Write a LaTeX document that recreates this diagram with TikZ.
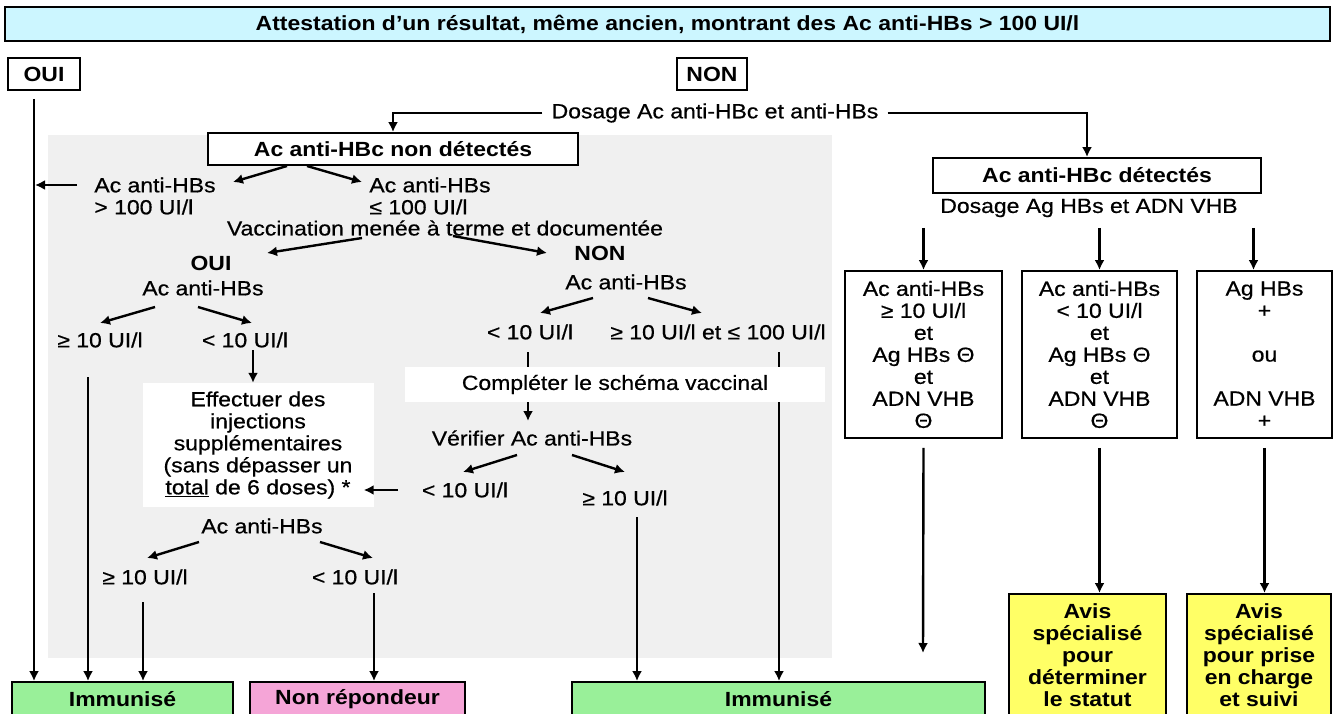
\documentclass[tikz,border=0pt]{standalone}
\usepackage{fontspec}
\setmainfont{Liberation Sans}[FakeStretch=1.12,UprightFeatures={FakeBold=0.6}]
\usetikzlibrary{calc}
\usetikzlibrary{arrows.meta}

\definecolor{topcyan}{RGB}{204,246,255}
\definecolor{bggray}{RGB}{240,240,240}
\definecolor{immgreen}{RGB}{153,240,153}
\definecolor{nrpink}{RGB}{245,165,215}
\definecolor{avyellow}{RGB}{255,255,102}

\begin{document}
\begin{tikzpicture}[x=1pt,y=-1pt,
  every node/.style={font=\fontsize{20.5}{22}\selectfont,inner sep=0pt,align=center},
  bold/.style={font=\fontsize{20.5}{22}\selectfont\bfseries},
  box/.style={draw,line width=1.9pt,fill=white},
  ln/.style={line width=2.4pt},
  arr/.style={line width=2.4pt,-{Latex[length=10pt,width=10pt]}}]

  \useasboundingbox (0,0) rectangle (1336,714);
  \fill [white] (0,0) rectangle (1336,714);
  \fill [bggray] (48,135) rectangle (832,658);

  % head
  \node [box,bold,fill=topcyan,minimum width=1325pt,minimum height=34pt] (top) at (667.5,24) {Attestation d’un résultat, même ancien, montrant des Ac anti-HBs > 100 UI/l};
  \node [box,bold,minimum width=72pt,minimum height=32pt] (oui) at (44,74) {OUI};
  \node [box,bold,minimum width=70pt,minimum height=32pt] (non) at (712,74) {NON};
  \node [inner xsep=9pt] (dosage) at (715,113) {Dosage Ac anti-HBc et anti-HBs};
  \node [box,bold,minimum width=370pt,minimum height=32pt] (nondet) at (393,149) {Ac anti-HBc non détectés};
  \node [box,bold,minimum width=328pt,minimum height=35pt] (det) at (1097,175.5) {Ac anti-HBc détectés};
  \node (dosage2) at (1089,208) {Dosage Ag HBs et ADN VHB};

  % anti-HBc non detectes
  \node [align=left] (hbsGt) at (155,196) {Ac anti-HBs\\> 100 UI/l};
  \node [align=left] (hbsLe) at (430,196) {Ac anti-HBs\\≤ 100 UI/l};
  \node (vacc) at (445,228) {Vaccination menée à terme et documentée};
  \node [bold] (ouiB) at (211,263) {OUI};
  \node (hbsO) at (203,288) {Ac anti-HBs};
  \node (geA) at (100,340) {≥ 10 UI/l};
  \node (ltA) at (245,340) {< 10 UI/l};
  \node [fill=white,minimum width=231pt,minimum height=124pt] (effect) at (258,445) {Effectuer des\\injections\\supplémentaires\\(sans dépasser un\\\underline{total} de 6 doses) *};
  \node (hbsE) at (262,526) {Ac anti-HBs};
  \node (geE) at (145,577) {≥ 10 UI/l};
  \node (ltE) at (355,577) {< 10 UI/l};

  \node [bold] (nonB) at (600,253) {NON};
  \node (hbsN) at (626,282) {Ac anti-HBs};
  \node (ltN) at (530,332) {< 10 UI/l};
  \node (midN) at (718,332) {≥ 10 UI/l et ≤ 100 UI/l};
  \node [fill=white,minimum width=420pt,minimum height=35pt] (compl) at (615,384.5) {Compléter le schéma vaccinal};
  \node (verif) at (532,438) {Vérifier Ac anti-HBs};
  \node (ltC) at (465,490) {< 10 UI/l};
  \node (geV) at (625,498) {≥ 10 UI/l};

  % anti-HBc detectes
  \node [box,minimum width=157pt,minimum height=167pt] (bx1) at (923.5,354.5) {Ac anti-HBs\\≥ 10 UI/l\\et\\Ag HBs Θ\\et\\ADN VHB\\Θ};
  \node [box,minimum width=155pt,minimum height=167pt] (bx2) at (1099.5,354.5) {Ac anti-HBs\\< 10 UI/l\\et\\Ag HBs Θ\\et\\ADN VHB\\Θ};
  \node [box,minimum width=135pt,minimum height=167pt] (bx3) at (1264.5,354.5) {Ag HBs\\+\\\mbox{}\\ou\\\mbox{}\\ADN VHB\\+};
  \coordinate (endA) at (923,653);

  % results
  \node [box,bold,fill=immgreen,minimum width=221pt,minimum height=34pt] (immA) at (122.5,699) {Immunisé};
  \node [box,bold,fill=nrpink,minimum width=215pt,minimum height=34pt] (nrep) at (357.5,699) {Non répondeur};
  \node [box,bold,fill=immgreen,minimum width=413pt,minimum height=34pt] (immB) at (778.5,699) {Immunisé};
  \node [box,bold,fill=avyellow,minimum width=157pt,minimum height=122pt] (av1) at (1087.5,655) {Avis\\spécialisé\\pour\\déterminer\\le statut};
  \node [box,bold,fill=avyellow,minimum width=144pt,minimum height=122pt] (av2) at (1259,655) {Avis\\spécialisé\\pour prise\\en charge\\et suivi};

  \draw [arr] (dosage.west) -| (nondet.north);
  \draw [arr] (dosage.east) -| ($(det.north)+(-10,0)$);
  \draw [arr] ($(oui.south)+(-10,8)$) -- ($(oui.south |- immA.north)+(-10,0)$);

  \draw [arr] ($(nondet)+(-106,17)$) -- ($(hbsGt)+(78,-14)$);
  \draw [arr] ($(nondet)+(-86,17)$) -- ($(hbsLe)+(-68,-14)$);
  \draw [arr] ($(hbsGt)+(-78,-11)$) -- ($(hbsGt)+(-120,-11)$);
  \draw [arr] ($(vacc)+(-83,10)$) -- ($(ouiB)+(56,-10)$);
  \draw [arr] ($(vacc)+(8,8)$) -- ($(nonB)+(-53,0)$);
  \draw [arr] ($(hbsO)+(-48,19)$) -- ($(geA)+(0,-17)$);
  \draw [arr] ($(hbsO)+(-5,19)$) -- ($(ltA)+(7,-17)$);
  \draw [arr] ($(geA)+(-12,37)$) -- ($(geA |- immA.north)+(-12,0)$);
  \draw [arr] ($(ltA)+(8,10)$) -- ($(ltA |- effect.north)+(8,0)$);
  \draw [arr] ($(ltC)+(-67,0)$) -- ($(effect.east |- ltC)+(-10,0)$);
  \draw [arr] ($(hbsE)+(-63,16)$) -- ($(geE)+(2,-19)$);
  \draw [arr] ($(hbsE)+(58,16)$) -- ($(ltE)+(18,-19)$);
  \draw [arr] ($(geE)+(-2,25)$) -- ($(geE |- immA.north)+(-2,0)$);
  \draw [arr] ($(ltE)+(19,16)$) -- ($(ltE |- nrep.north)+(19,0)$);

  \draw [arr] ($(hbsN)+(-33,16)$) -- ($(ltN)+(10,-19)$);
  \draw [arr] ($(hbsN)+(22,16)$) -- ($(midN)+(-16,-19)$);
  \draw [ln] ($(ltN)+(-2,20)$) -- ($(ltN |- compl.north)+(-2,0)$);
  \draw [ln] ($(midN)+(61,20)$) -- ($(midN |- compl.north)+(61,0)$);
  \draw [arr] ($(midN |- compl.south)+(61,0)$) -- ($(midN |- immB.north)+(61,0)$);
  \draw [arr] ($(verif |- compl.south)+(-4,0)$) -- ($(verif)+(-4,-17)$);
  \draw [arr] ($(verif)+(-15,17)$) -- ($(ltC)+(-2,-18)$);
  \draw [arr] ($(verif)+(40,17)$) -- ($(geV)+(0,-26)$);
  \draw [arr] ($(geV)+(12,19)$) -- ($(geV |- immB.north)+(12,0)$);

  \draw [arr] ($(dosage2 -| bx1.north)+(0,20)$) -- (bx1.north);
  \draw [arr] ($(dosage2 -| bx2.north)+(0,20)$) -- (bx2.north);
  \draw [arr] ($(dosage2 -| bx3.north)+(-11,20)$) -- ($(bx3.north)+(-11,0)$);
  \draw [arr] ($(bx1.south)+(0,9)$) -- (endA);
  \draw [arr] ($(bx2.south)+(0,9)$) -- (bx2.south |- av1.north);
  \draw [arr] ($(bx3.south)+(0,9)$) -- (bx3.south |- av2.north);
\end{tikzpicture}
\end{document}
